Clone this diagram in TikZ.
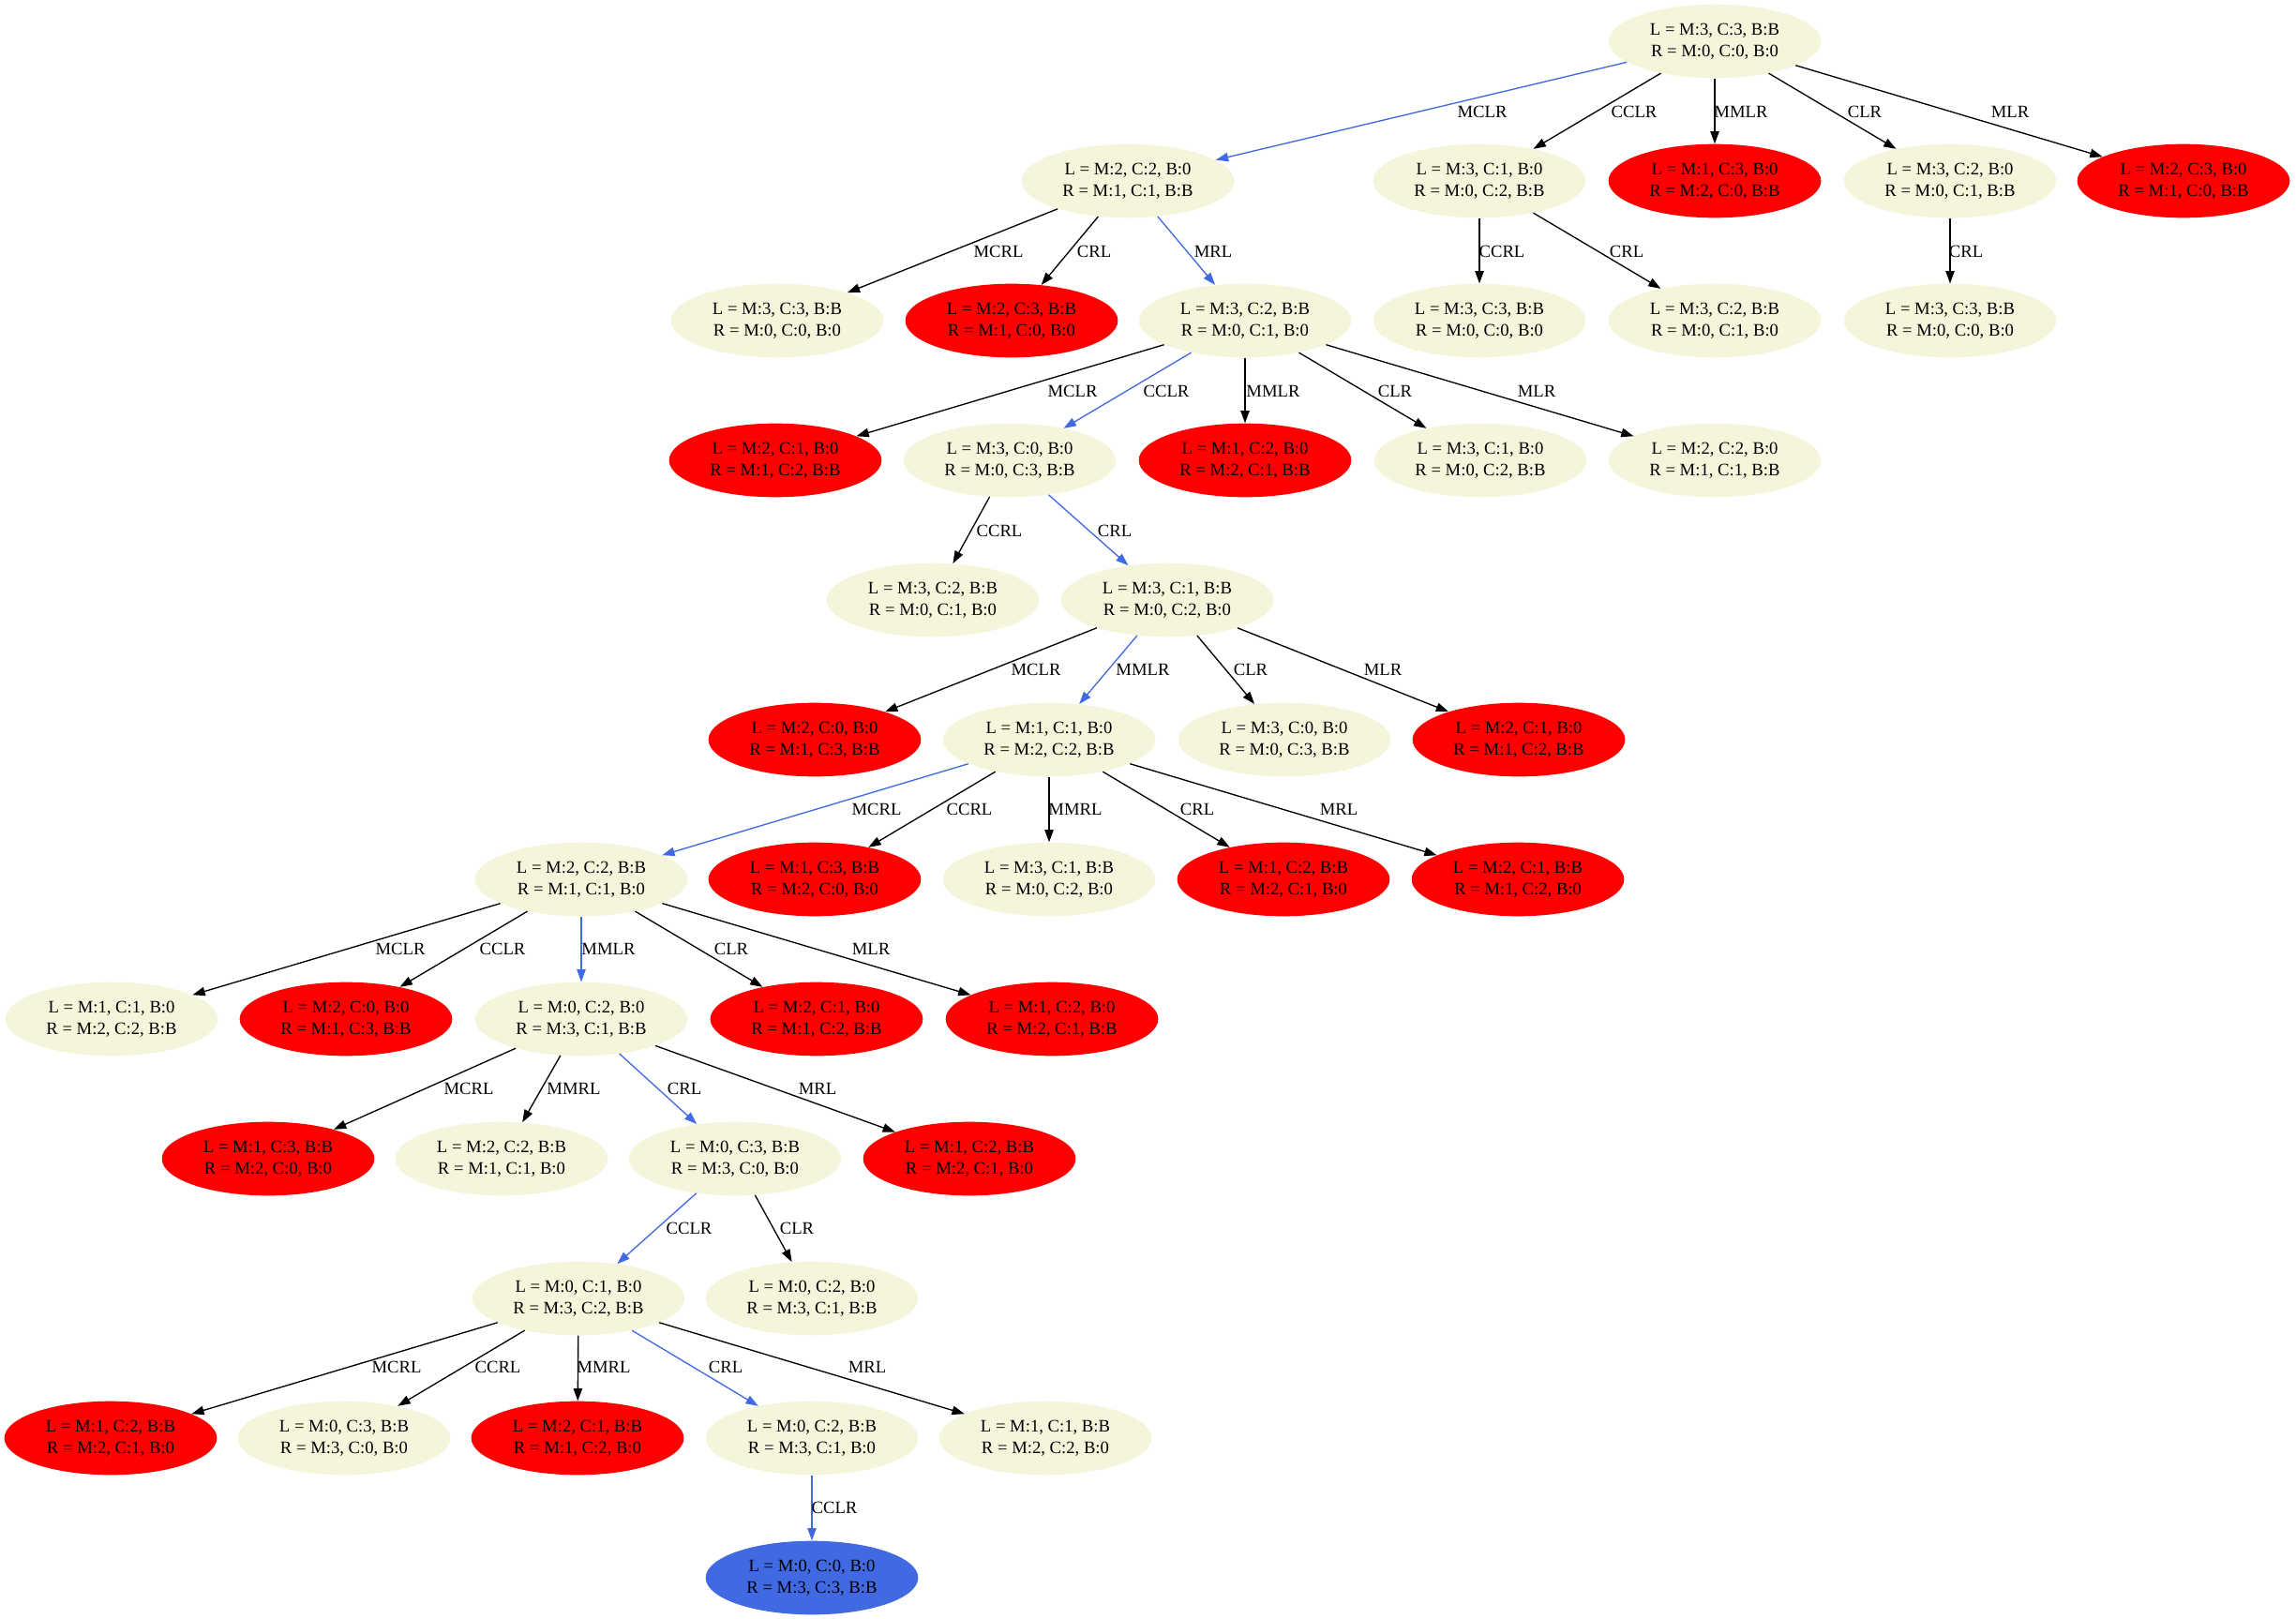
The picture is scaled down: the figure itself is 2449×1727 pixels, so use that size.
\documentclass[tikz,border=0pt]{standalone}
\usepackage{fontspec}
\setmainfont{Liberation Serif}
\usetikzlibrary{shapes.geometric,arrows.meta}
\definecolor{beige}{HTML}{F5F5DC}
\definecolor{rblue}{HTML}{4169E1}

\begin{document}
\begin{tikzpicture}[x=0.75pt,y=-0.75pt,
  st/.style={ellipse, minimum width=170pt, minimum height=59pt, inner sep=0pt, align=center, font=\fontsize{14}{17}\selectfont},
  ok/.style={st, fill=beige},
  bad/.style={st, fill=red},
  goal/.style={st, fill=rblue},
  mv/.style={-{Triangle[length=10pt,width=7pt]}, line width=1pt},
  lbl/.style={font=\fontsize{14}{17}\selectfont, inner sep=0pt}]
\useasboundingbox (0,0) rectangle (2449,1727);

% level 0 and 1
\node[ok] (root) at (1829,44) {L = M:3, C:3, B:B\\R = M:0, C:0, B:0};
\node[ok] (a1) at (1203,193) {L = M:2, C:2, B:0\\R = M:1, C:1, B:B};
\node[ok] (a2) at (1578,193) {L = M:3, C:1, B:0\\R = M:0, C:2, B:B};
\node[bad] (a3) at (1829,193) {L = M:1, C:3, B:0\\R = M:2, C:0, B:B};
\node[ok] (a4) at (2080,193) {L = M:3, C:2, B:0\\R = M:0, C:1, B:B};
\node[bad] (a5) at (2329,193) {L = M:2, C:3, B:0\\R = M:1, C:0, B:B};
% level 2
\node[ok] (b1) at (829,342) {L = M:3, C:3, B:B\\R = M:0, C:0, B:0};
\node[bad] (b2) at (1079,342) {L = M:2, C:3, B:B\\R = M:1, C:0, B:0};
\node[ok] (b3) at (1328,342) {L = M:3, C:2, B:B\\R = M:0, C:1, B:0};
\node[ok] (b4) at (1578,342) {L = M:3, C:3, B:B\\R = M:0, C:0, B:0};
\node[ok] (b5) at (1829,342) {L = M:3, C:2, B:B\\R = M:0, C:1, B:0};
\node[ok] (b6) at (2080,342) {L = M:3, C:3, B:B\\R = M:0, C:0, B:0};
% level 3
\node[bad] (c1) at (827,491) {L = M:2, C:1, B:0\\R = M:1, C:2, B:B};
\node[ok] (c2) at (1077,491) {L = M:3, C:0, B:0\\R = M:0, C:3, B:B};
\node[bad] (c3) at (1328,491) {L = M:1, C:2, B:0\\R = M:2, C:1, B:B};
\node[ok] (c4) at (1579,491) {L = M:3, C:1, B:0\\R = M:0, C:2, B:B};
\node[ok] (c5) at (1829,491) {L = M:2, C:2, B:0\\R = M:1, C:1, B:B};
% level 4
\node[ok] (d1) at (995,640) {L = M:3, C:2, B:B\\R = M:0, C:1, B:0};
\node[ok] (d2) at (1245,640) {L = M:3, C:1, B:B\\R = M:0, C:2, B:0};
% level 5
\node[bad] (e1) at (869,789) {L = M:2, C:0, B:0\\R = M:1, C:3, B:B};
\node[ok] (e2) at (1119,789) {L = M:1, C:1, B:0\\R = M:2, C:2, B:B};
\node[ok] (e3) at (1370,789) {L = M:3, C:0, B:0\\R = M:0, C:3, B:B};
\node[bad] (e4) at (1620,789) {L = M:2, C:1, B:0\\R = M:1, C:2, B:B};
% level 6
\node[ok] (f1) at (620,938) {L = M:2, C:2, B:B\\R = M:1, C:1, B:0};
\node[bad] (f2) at (869,938) {L = M:1, C:3, B:B\\R = M:2, C:0, B:0};
\node[ok] (f3) at (1119,938) {L = M:3, C:1, B:B\\R = M:0, C:2, B:0};
\node[bad] (f4) at (1369,938) {L = M:1, C:2, B:B\\R = M:2, C:1, B:0};
\node[bad] (f5) at (1619,938) {L = M:2, C:1, B:B\\R = M:1, C:2, B:0};
% level 7
\node[ok] (g1) at (119,1087) {L = M:1, C:1, B:0\\R = M:2, C:2, B:B};
\node[bad] (g2) at (369,1087) {L = M:2, C:0, B:0\\R = M:1, C:3, B:B};
\node[ok] (g3) at (620,1087) {L = M:0, C:2, B:0\\R = M:3, C:1, B:B};
\node[bad] (g4) at (871,1087) {L = M:2, C:1, B:0\\R = M:1, C:2, B:B};
\node[bad] (g5) at (1122,1087) {L = M:1, C:2, B:0\\R = M:2, C:1, B:B};
% level 8
\node[bad] (h1) at (286,1236) {L = M:1, C:3, B:B\\R = M:2, C:0, B:0};
\node[ok] (h2) at (535,1236) {L = M:2, C:2, B:B\\R = M:1, C:1, B:0};
\node[ok] (h3) at (784,1236) {L = M:0, C:3, B:B\\R = M:3, C:0, B:0};
\node[bad] (h4) at (1034,1236) {L = M:1, C:2, B:B\\R = M:2, C:1, B:0};
% level 9
\node[ok] (i1) at (617,1385) {L = M:0, C:1, B:0\\R = M:3, C:2, B:B};
\node[ok] (i2) at (866,1385) {L = M:0, C:2, B:0\\R = M:3, C:1, B:B};
% level 10 and 11
\node[bad] (j1) at (118,1534) {L = M:1, C:2, B:B\\R = M:2, C:1, B:0};
\node[ok] (j2) at (367,1534) {L = M:0, C:3, B:B\\R = M:3, C:0, B:0};
\node[bad] (j3) at (616,1534) {L = M:2, C:1, B:B\\R = M:1, C:2, B:0};
\node[ok] (j4) at (866,1534) {L = M:0, C:2, B:B\\R = M:3, C:1, B:0};
\node[ok] (j5) at (1115,1534) {L = M:1, C:1, B:B\\R = M:2, C:2, B:0};
\node[goal] (k1) at (866,1683) {L = M:0, C:0, B:0\\R = M:3, C:3, B:B};

% moves
\foreach \s/\t/\m/\lx/\ly/\c in {
  root/a1/MCLR/1581/119/rblue, root/a2/CCLR/1743/119/black, root/a3/MMLR/1857/119/black,
  root/a4/CLR/1989/119/black, root/a5/MLR/2144/119/black,
  a1/b1/MCRL/1065/268/black, a1/b2/CRL/1167/268/black, a1/b3/MRL/1294/268/rblue,
  a2/b4/CCRL/1602/268/black, a2/b5/CRL/1735/268/black, a4/b6/CRL/2097/268/black,
  b3/c1/MCLR/1144/417/black, b3/c2/CCLR/1244/417/rblue, b3/c3/MMLR/1358/417/black,
  b3/c4/CLR/1488/417/black, b3/c5/MLR/1639/417/black,
  c2/d1/CCRL/1066/566/black, c2/d2/CRL/1189/566/rblue,
  d2/e1/MCLR/1105/714/black, d2/e2/MMLR/1219/714/rblue, d2/e3/CLR/1334/714/black,
  d2/e4/MLR/1475/714/black,
  e2/f1/MCRL/935/863/rblue, e2/f2/CCRL/1034/863/black, e2/f3/MMRL/1147/863/black,
  e2/f4/CRL/1277/863/black, e2/f5/MRL/1428/863/black,
  f1/g1/MCLR/427/1012/black, f1/g2/CCLR/536/1012/black, f1/g3/MMLR/649/1012/rblue,
  f1/g4/CLR/780/1012/black, f1/g5/MLR/929/1012/black,
  g3/h1/MCRL/500/1161/black, g3/h2/MMRL/612/1161/black, g3/h3/CRL/730/1161/rblue,
  g3/h4/MRL/872/1161/black,
  h3/i1/CCLR/735/1310/rblue, h3/i2/CLR/850/1310/black,
  i1/j1/MCRL/423/1458/black, i1/j2/CCRL/531/1458/black, i1/j3/MMRL/644/1458/black,
  i1/j4/CRL/774/1458/rblue, i1/j5/MRL/925/1458/black,
  j4/k1/CCLR/890/1608/rblue}
{
  \draw[mv, draw=\c] (\s) -- (\t);
  \node[lbl] (l\t) at (\lx,\ly) {\m};
}
\end{tikzpicture}
\end{document}
